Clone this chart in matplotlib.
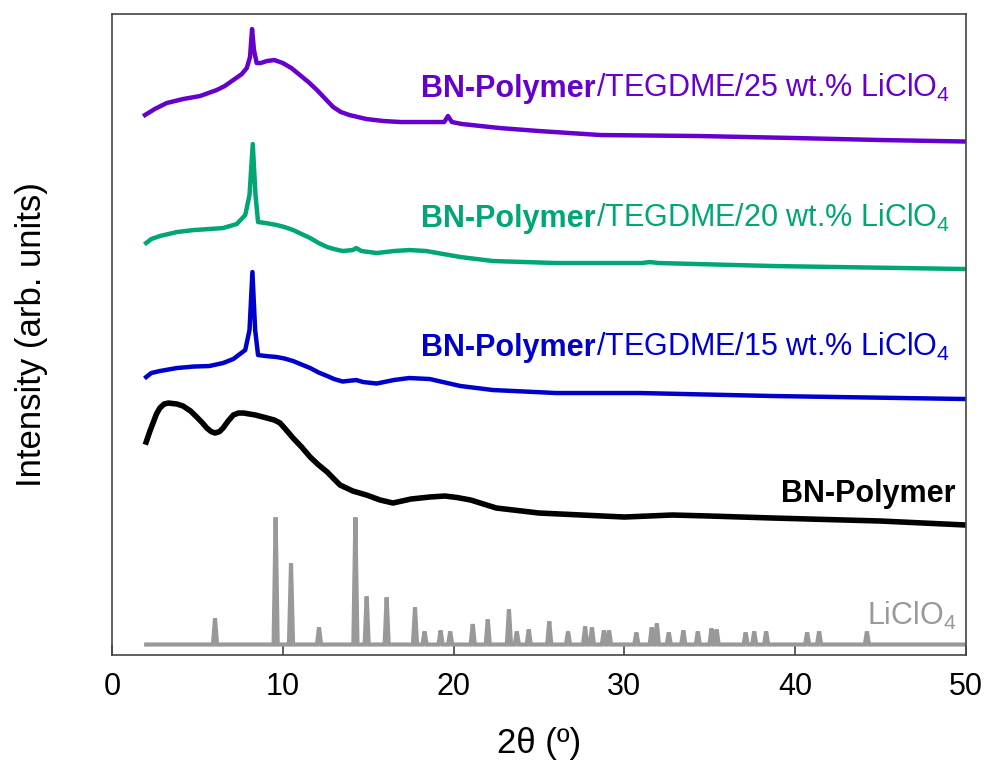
import matplotlib
matplotlib.use("Agg")
import matplotlib.pyplot as plt
from matplotlib.transforms import offset_copy

plt.rcParams['font.family'] = ['Liberation Sans', 'DejaVu Sans']
plt.rcParams['mathtext.fontset'] = 'custom'
plt.rcParams['mathtext.rm'] = 'Liberation Sans'
plt.rcParams['mathtext.it'] = 'Liberation Sans:italic'
plt.rcParams['mathtext.bf'] = 'Liberation Sans:bold'

# XRD patterns (2theta in degrees, intensity in arbitrary units, stacked)
two_theta_25 = [1.93, 2.5, 3.2, 4.16, 5.15, 6.13, 6.6, 7.1, 7.6, 7.89, 8.08, 8.2, 8.31, 8.47,
                8.7, 9.07, 9.5, 10.0, 10.5, 11.0, 11.5, 12.0, 12.5, 12.95, 13.4, 13.9, 14.9,
                15.9, 16.9, 18.5, 19.45, 19.67, 19.9, 20.5, 22.7, 25.0, 28.6, 34.4, 40.0,
                45.0, 50.0]
int_25 = [540, 546, 552, 556, 559, 565, 569, 575, 581, 587, 598, 626, 605, 592,
          592, 594, 595, 592, 587, 580, 573, 565, 556, 548, 543, 540, 536,
          534, 533, 533, 533, 539, 533, 531, 527, 524, 520, 519, 517,
          515, 513.5]

two_theta_20 = [2.0, 2.3, 2.8, 3.8, 4.8, 5.7, 6.5, 7.3, 7.8, 8.05, 8.24, 8.4, 8.55, 9.0,
                9.64, 10.1, 10.6, 11.1, 11.6, 12.1, 12.6, 13.0, 13.5, 14.1, 14.3, 14.6,
                15.5, 16.5, 17.4, 18.4, 19.4, 20.4, 22.3, 26.0, 31.0, 31.5, 32.0, 38.7, 50.0]
int_20 = [412, 416, 419, 423, 425, 426, 427, 431, 440, 460, 511, 460, 433, 432,
          430, 428, 425, 421, 417, 412, 408, 406, 404, 405, 407, 404,
          402, 404, 405, 404, 401, 398, 394, 392, 392, 393, 392, 389, 386]

two_theta_15 = [2.0, 2.3, 2.8, 3.8, 4.8, 5.7, 6.5, 7.1, 7.8, 8.05, 8.22, 8.38, 8.55, 9.0,
                9.64, 10.1, 10.6, 11.1, 11.6, 12.1, 12.6, 13.0, 13.5, 14.3, 14.7, 15.5,
                16.5, 17.4, 18.6, 19.5, 20.4, 22.3, 26.0, 30.9, 38.7, 50.0]
int_15 = [278, 282, 284, 287, 288.5, 289, 292, 296, 305, 325, 383, 325, 300, 299,
          298, 296.5, 294, 290.5, 287, 282.5, 279, 276, 273.5, 275, 273, 271.5,
          275, 277, 276, 272.5, 269, 265, 262, 262, 259, 256]

two_theta_bn = [2.0, 2.2, 2.4, 2.6, 2.8, 3.05, 3.3, 3.8, 4.16, 4.6, 4.96, 5.3, 5.55, 5.8,
                6.03, 6.3, 6.5, 6.8, 7.1, 7.4, 7.7, 8.4, 9.07, 9.5, 9.84, 10.2, 10.6,
                11.1, 11.6, 12.1, 12.6, 13.0, 13.35, 14.1, 14.9, 15.7, 16.45, 17.5, 18.6,
                19.5, 20.2, 21.0, 22.5, 25.0, 30.0, 32.8, 35.0, 38.7, 45.0, 50.0]
int_bn = [213, 223, 232, 241, 247, 251, 252, 251, 249, 244, 238, 232, 227, 223.5,
          222, 223.5, 227, 234, 240, 242, 242, 240, 237, 235, 232, 225, 217,
          208, 198, 190, 183, 176, 170, 164, 160, 155, 152, 156, 158,
          159, 157.5, 155, 147, 142, 138, 140, 139, 137, 134, 130]

# LiClO4 reference pattern: reflection positions and intensities above a flat baseline
liclo4_base = 10.5
liclo4_pos = [6.03, 9.58, 10.48, 12.12, 14.25, 14.91, 16.08, 17.74, 18.3, 19.24, 19.8,
              21.12, 22.0, 23.24, 23.7, 24.4, 25.6, 26.7, 27.7, 28.1, 28.8, 29.1, 30.7,
              31.6, 31.9, 32.6, 33.45, 34.3, 35.1, 35.4, 37.1, 37.6, 38.3, 40.7, 41.4, 44.2]
liclo4_int = [26, 127, 81, 17, 127, 48, 47, 37, 13, 14, 13,
              20.5, 25, 35, 13, 15, 23, 13, 18, 17, 14, 14, 12,
              17, 21, 12, 14, 13, 16, 15, 12, 13, 13, 12, 13, 13]
liclo4_range = [2.0, 50.0]

labels_25 = [("BN-Polymer", "bold"), ("/TEGDME/25 wt.% LiClO$_4$", "normal")]
labels_20 = [("BN-Polymer", "bold"), ("/TEGDME/20 wt.% LiClO$_4$", "normal")]
labels_15 = [("BN-Polymer", "bold"), ("/TEGDME/15 wt.% LiClO$_4$", "normal")]
label_bn = [("BN-Polymer", "bold")]
label_li = [("LiClO$_4$", "normal")]

c25, c20, c15, cbn, cli = "#6600CC", "#00A676", "#0000CC", "#000000", "#999999"

fig = plt.figure(figsize=(9.87, 7.67), dpi=100)
ax = fig.add_axes([0.1135, 0.146, 0.8652, 0.8357])

lw = 3.2
ax.plot(two_theta_25, int_25, color=c25, lw=lw, solid_joinstyle='round')
ax.plot(two_theta_20, int_20, color=c20, lw=lw, solid_joinstyle='round')
ax.plot(two_theta_15, int_15, color=c15, lw=lw, solid_joinstyle='round')
ax.plot(two_theta_bn, int_bn, color=cbn, lw=lw + 0.8, solid_joinstyle='round')

# stick-like profile for the reference pattern
hw = 0.12
px = [liclo4_range[0]]
py = [liclo4_base]
for p, h in zip(liclo4_pos, liclo4_int):
    px += [p - hw, p, p + hw]
    py += [liclo4_base, liclo4_base + h, liclo4_base]
px.append(liclo4_range[1])
py.append(liclo4_base)
ax.plot(px, py, color=cli, lw=3.0, solid_joinstyle='miter')

ax.set_xlim(0, 50)
ax.set_ylim(0, 641)
ax.set_xticks([0, 10, 20, 30, 40, 50])
ax.set_yticks([])
ax.tick_params(axis='x', direction='in', length=7, width=1.1, labelsize=22, pad=12,
               colors='#333333', labelcolor='black')
for s in ax.spines.values():
    s.set_color('#444444')
    s.set_linewidth(1.2)

ax.set_xlabel("2θ (º)", fontsize=25, labelpad=18)
ax.set_ylabel("Intensity (arb. units)", fontsize=25, labelpad=46)

renderer = fig.canvas.get_renderer()


def place_label(x, y, parts, color, size=22):
    # lay out mixed-weight pieces right to left, ending at x
    offset = 0.0
    for text, weight in reversed(parts):
        tr = offset_copy(ax.transData, fig=fig, x=-offset, y=0, units='dots')
        t = ax.text(x, y, text, transform=tr, ha='right', va='baseline',
                    color=color, fontsize=size, fontweight=weight)
        offset += t.get_window_extent(renderer).width


place_label(49.06, 558, labels_25, c25)
place_label(49.06, 428, labels_20, c20)
place_label(49.06, 299, labels_15, c15)
place_label(49.41, 153, label_bn, cbn)
place_label(49.47, 30, label_li, cli)

fig.savefig("out.png", dpi=100)
